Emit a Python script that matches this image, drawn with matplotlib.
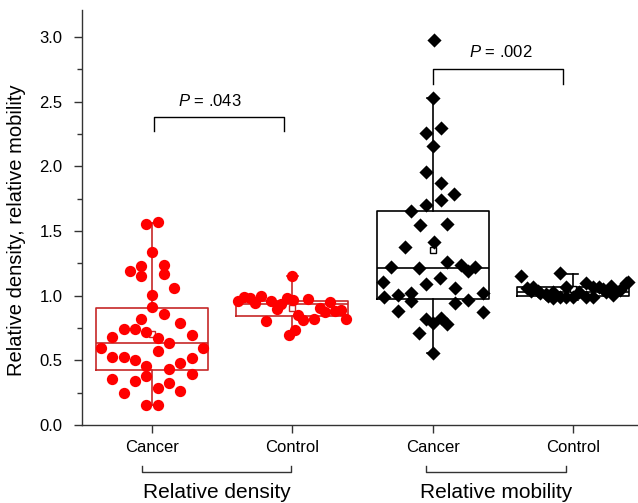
"""Relative density / relative mobility, cancer vs control: box plots with jittered points."""
import matplotlib
matplotlib.use("Agg")
import matplotlib.pyplot as plt
import matplotlib.transforms as mtransforms
from matplotlib.ticker import MultipleLocator, FormatStrFormatter

plt.rcParams["font.family"] = ["Liberation Sans", "DejaVu Sans"]
plt.rcParams["mathtext.fontset"] = "custom"
plt.rcParams["mathtext.it"] = "Liberation Sans:italic"
plt.rcParams["mathtext.rm"] = "Liberation Sans"

# ---- data ----
tick_labels = ["Cancer", "Control", "Cancer", "Control"]
group_labels = ["Relative density", "Relative mobility"]
p_labels = ["$P$ = .043", "$P$ = .002"]

dens_cancer_x = [0.954, 1.04, 1.0, 0.919, 0.84, 0.919, 1.083, 1.083, 1.159, 1.0, 1.0, 1.083,
                 0.919, 1.2, 0.798, 0.879, 0.959, 0.717, 1.282, 1.04, 1.121, 0.637, 1.363, 1.04,
                 0.717, 0.798, 0.879, 1.282, 1.2, 0.959, 1.121, 0.959, 1.282, 0.717, 0.879, 1.121,
                 1.04, 1.2, 0.798, 0.959, 1.04]
dens_cancer_y = [1.555, 1.57, 1.336, 1.227, 1.193, 1.15, 1.24, 1.168, 1.057, 1.008, 0.91, 0.86,
                 0.82, 0.786, 0.742, 0.742, 0.717, 0.678, 0.696, 0.67, 0.637, 0.598, 0.598, 0.57,
                 0.528, 0.523, 0.50, 0.516, 0.477, 0.456, 0.43, 0.379, 0.392, 0.353, 0.343, 0.322,
                 0.284, 0.263, 0.25, 0.155, 0.155]

dens_control_x = [2.0, 1.614, 1.657, 1.697, 1.733, 1.773, 1.851, 1.887, 1.922, 1.965, 2.006, 2.112,
                  2.196, 2.231, 2.267, 2.302, 2.35, 2.385, 1.809, 2.041, 2.077, 2.155, 2.018, 1.977]
dens_control_y = [1.152, 0.957, 0.99, 0.982, 0.946, 0.995, 0.957, 0.9, 0.938, 0.982, 0.969, 0.972,
                  0.905, 0.874, 0.951, 0.879, 0.887, 0.822, 0.807, 0.848, 0.81, 0.822, 0.732, 0.698]

mob_cancer_x = [3.007, 3.0, 3.057, 2.955, 3.0, 2.955, 3.057, 3.152, 3.057, 2.955, 2.848, 2.907,
                3.102, 2.805, 3.007, 3.102, 2.705, 2.902, 3.204, 3.251, 3.303, 2.646, 2.955, 3.054,
                3.157, 3.358, 2.653, 2.753, 2.848, 2.848, 3.251, 3.157, 2.753, 3.358, 2.955, 3.0,
                3.057, 3.104, 2.902, 3.0]
mob_cancer_y = [2.978, 2.526, 2.3, 2.26, 2.16, 1.954, 1.874, 1.786, 1.74, 1.70, 1.657, 1.547,
                1.552, 1.379, 1.418, 1.263, 1.224, 1.212, 1.237, 1.193, 1.22, 1.108, 1.09, 1.134,
                1.062, 1.023, 0.987, 1.005, 1.023, 0.961, 0.967, 0.941, 0.882, 0.871, 0.817, 0.791,
                0.825, 0.781, 0.709, 0.554]

mob_control_x = [3.633, 3.911, 3.676, 3.705, 3.716, 3.752, 3.764, 3.811, 3.823, 3.858, 3.858, 3.906,
                 3.954, 3.954, 4.0, 4.047, 4.093, 4.093, 4.143, 4.143, 4.19, 4.238, 4.285, 4.333,
                 4.38, 4.274, 4.214, 4.392]
mob_control_y = [1.155, 1.178, 1.057, 1.04, 1.07, 1.034, 1.02, 1.013, 0.995, 1.031, 0.98, 0.992,
                 1.07, 0.992, 0.99, 1.031, 1.096, 0.992, 1.07, 0.992, 1.07, 1.031, 1.005, 1.044,
                 1.096, 1.072, 1.055, 1.106]

box_pos = [1, 2, 3, 4]
box_whislo = [0.155, 0.706, 0.554, 0.97]
box_q1 = [0.425, 0.845, 0.972, 0.995]
box_med = [0.632, 0.935, 1.217, 1.03]
box_q3 = [0.905, 0.962, 1.655, 1.067]
box_whishi = [1.56, 1.15, 2.526, 1.165]
box_mean = [0.70, 0.905, 1.35, 1.05]

# significance brackets
sig_x0 = [1.01, 3.0]
sig_x1 = [1.94, 3.93]
sig_top = [2.38, 2.751]
sig_low = [2.274, 2.637]
sig_text_x = [1.41, 3.485]
sig_text_y = [2.51, 2.888]

RED = "#FF0000"
RED_LINE = "#C62828"

fig = plt.figure(figsize=(6.38, 5.03), dpi=100)
ax = fig.add_axes([0.1285, 0.1551, 0.8793, 0.825])

stats = []
for i in range(4):
    stats.append(dict(whislo=box_whislo[i], q1=box_q1[i], med=box_med[i], q3=box_q3[i],
                      whishi=box_whishi[i], mean=box_mean[i], fliers=[]))

for i in range(4):
    c = RED_LINE if i < 2 else "black"
    ax.bxp([stats[i]], positions=[box_pos[i]], widths=0.8, capwidths=0.08,
           showmeans=True, showfliers=False, manage_ticks=False,
           boxprops=dict(color=c, lw=1.2),
           medianprops=dict(color=c, lw=1.2),
           whiskerprops=dict(color=c, lw=1.2),
           capprops=dict(color=c, lw=1.2),
           meanprops=dict(marker="s", markerfacecolor="white", markeredgecolor=c,
                          markersize=4.5, markeredgewidth=1.0),
           zorder=2)

ax.scatter(dens_cancer_x, dens_cancer_y, s=66, marker="o", color=RED, lw=0, zorder=3)
ax.scatter(dens_control_x, dens_control_y, s=66, marker="o", color=RED, lw=0, zorder=3)
ax.scatter(mob_cancer_x, mob_cancer_y, s=52, marker="D", color="black", lw=0, zorder=3)
ax.scatter(mob_control_x, mob_control_y, s=52, marker="D", color="black", lw=0, zorder=3)

for i in range(2):
    ax.plot([sig_x0[i], sig_x0[i], sig_x1[i], sig_x1[i]],
            [sig_low[i], sig_top[i], sig_top[i], sig_low[i]], color="black", lw=1.0)
    ax.text(sig_text_x[i], sig_text_y[i], p_labels[i], ha="center", va="center", fontsize=12)

ax.set_xlim(0.5, 4.5)
ax.set_ylim(0, 3.21)
ax.set_xticks(box_pos)
ax.set_xticklabels(tick_labels)
ax.yaxis.set_major_locator(MultipleLocator(0.5))
ax.yaxis.set_minor_locator(MultipleLocator(0.25))
ax.yaxis.set_major_formatter(FormatStrFormatter("%.1f"))
ax.tick_params(axis="both", which="major", labelsize=12, length=6, width=1.0, color="#333333")
ax.tick_params(axis="y", which="minor", length=3.5, width=1.0, color="#333333")
ax.tick_params(axis="x", pad=5)
ax.tick_params(axis="y", which="major", pad=8)
for side in ("top", "right"):
    ax.spines[side].set_visible(False)
for side in ("left", "bottom"):
    ax.spines[side].set_color("#333333")
    ax.spines[side].set_linewidth(1.0)

ax.set_ylabel("Relative density, relative mobility", fontsize=14.5)
ax.yaxis.set_label_coords(-0.1, 0.47)

# group brackets beneath the category labels
trans = mtransforms.blended_transform_factory(ax.transData, ax.transAxes)
grp_x0 = [0.93, 2.95]
grp_x1 = [1.99, 3.95]
for i in range(2):
    ax.plot([grp_x0[i], grp_x0[i], grp_x1[i], grp_x1[i]], [-0.099, -0.113, -0.113, -0.099],
            color="#333333", lw=1.0, transform=trans, clip_on=False)
    ax.text((grp_x0[i] + grp_x1[i]) / 2, -0.162, group_labels[i], transform=trans,
            ha="center", va="center", fontsize=15)

fig.savefig("out.png", dpi=100)
